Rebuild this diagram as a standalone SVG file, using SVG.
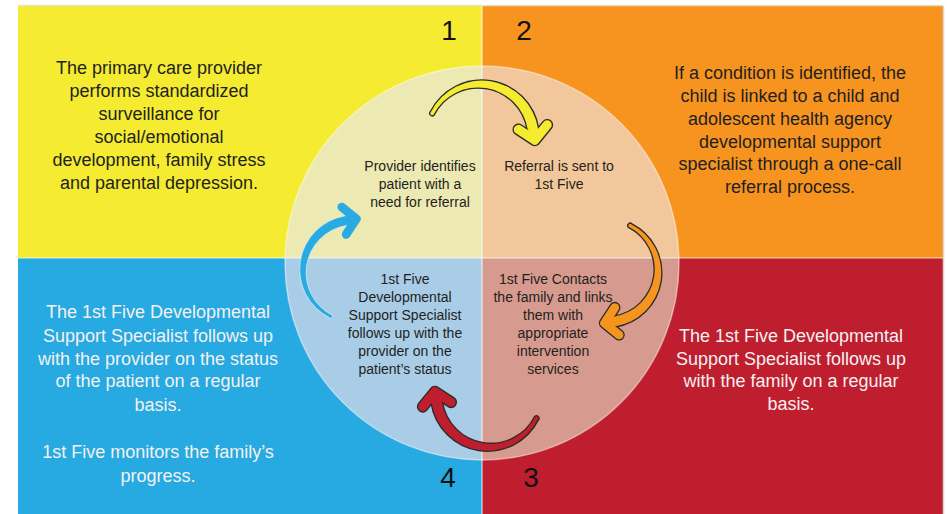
<svg xmlns="http://www.w3.org/2000/svg" xmlns:xlink="http://www.w3.org/1999/xlink" width="947" height="514" viewBox="0 0 947 514">
<style>
  .big { font-family: "Liberation Sans", Arial, sans-serif; font-size: 18px; text-anchor: middle; }
  .dark { fill: #231f20; }
  .light { fill: #f4f1f2; }
  .lbl { font-family: "Liberation Sans", Arial, sans-serif; font-size: 14px; text-anchor: middle; fill: #231f20; }
  .num { font-family: "Liberation Sans", Arial, sans-serif; font-size: 28px; text-anchor: middle; fill: #111; }
  .ol { fill: #2b2b2b; stroke: #2b2b2b; stroke-width: 2.6; stroke-linejoin: round; }
  .olh { fill: none; stroke: #2b2b2b; stroke-width: 11.6; stroke-linecap: round; stroke-linejoin: round; }
  .hd { fill: none; stroke-width: 9; stroke-linecap: round; stroke-linejoin: round; }
</style>
<defs>
  <clipPath id="circ"><circle cx="482" cy="263" r="197"/></clipPath>
  <path id="shaft" d="M -47.53 -25.10 A 55.29 55.29 0 0 1 56.36 -8.65 L 46.40 -7.60 A 48.71 48.71 0 0 0 -45.13 -22.11 A 1.92 1.92 0 0 1 -47.53 -25.10 Z"/>
  <path id="head" d="M 51.4 -8.1 L 53.2 2.5 M 37.3 -7.9 L 53.2 2.5 L 65.2 -12.3"/>
</defs>
<rect x="0" y="0" width="947" height="514" fill="#ffffff"/>
<g id="quadrants">
  <rect x="18" y="6" width="464" height="252" fill="#f5ec32"/>
  <rect x="482" y="6" width="461" height="252" fill="#f7941f"/>
  <rect x="18" y="258" width="464" height="256" fill="#27a9e1"/>
  <rect x="482" y="258" width="461" height="256" fill="#be1e2e"/>
  <line x1="18" y1="5.5" x2="943" y2="5.5" stroke="#e9e4b8" stroke-width="1.5"/>
  <line x1="943.5" y1="6" x2="943.5" y2="514" stroke="#d9d6d6" stroke-width="1.5"/>
</g>
<g id="circle" clip-path="url(#circ)">
  <rect x="285" y="60" width="197" height="198" fill="#ece9b3"/>
  <rect x="482" y="60" width="200" height="198" fill="#f1c79b"/>
  <rect x="285" y="258" width="197" height="210" fill="#a9cde7"/>
  <rect x="482" y="258" width="200" height="210" fill="#d79a8e"/>
</g>
<circle cx="482" cy="263" r="197" fill="none" stroke="#ffffff" stroke-opacity="0.45" stroke-width="1.5"/>
<g id="dividers" stroke="#ffffff" stroke-opacity="0.75" stroke-width="1.2">
  <line x1="482" y1="6" x2="482" y2="514"/>
  <line x1="18" y1="258" x2="943" y2="258"/>
</g>
<g id="numbers">
  <text class="num" x="449" y="40">1</text>
  <text class="num" x="524" y="40">2</text>
  <text class="num" x="531" y="487">3</text>
  <text class="num" x="448" y="487">4</text>
</g>
<g id="quad-text-1">
  <text class="big dark" x="159" y="74">The primary care provider</text>
  <text class="big dark" x="159" y="97">performs standardized</text>
  <text class="big dark" x="159" y="120">surveillance for</text>
  <text class="big dark" x="159" y="143">social/emotional</text>
  <text class="big dark" x="159" y="166">development, family stress</text>
  <text class="big dark" x="159" y="189">and parental depression.</text>
</g>
<g id="quad-text-2">
  <text class="big dark" x="790" y="79">If a condition is identified, the</text>
  <text class="big dark" x="790" y="102">child is linked to a child and</text>
  <text class="big dark" x="790" y="125">adolescent health agency</text>
  <text class="big dark" x="790" y="148">developmental support</text>
  <text class="big dark" x="790" y="170">specialist through a one-call</text>
  <text class="big dark" x="790" y="193">referral process.</text>
</g>
<g id="quad-text-3">
  <text class="big light" x="791" y="342">The 1st Five Developmental</text>
  <text class="big light" x="791" y="365">Support Specialist follows up</text>
  <text class="big light" x="791" y="387">with the family on a regular</text>
  <text class="big light" x="791" y="410">basis.</text>
</g>
<g id="quad-text-4">
  <text class="big light" x="158" y="318">The 1st Five Developmental</text>
  <text class="big light" x="158" y="342">Support Specialist follows up</text>
  <text class="big light" x="158" y="365">with the provider on the status</text>
  <text class="big light" x="158" y="387">of the patient on a regular</text>
  <text class="big light" x="158" y="411">basis.</text>
  <text class="big light" x="158" y="458">1st Five monitors the family’s</text>
  <text class="big light" x="158" y="482">progress.</text>
</g>
<g id="node-1">
  <text class="lbl" x="420" y="171">Provider identifies</text>
  <text class="lbl" x="420" y="189">patient with a</text>
  <text class="lbl" x="420" y="207">need for referral</text>
</g>
<g id="node-2">
  <text class="lbl" x="559" y="171">Referral is sent to</text>
  <text class="lbl" x="559" y="189">1st Five</text>
</g>
<g id="node-3">
  <text class="lbl" x="553" y="284">1st Five Contacts</text>
  <text class="lbl" x="553" y="302">the family and links</text>
  <text class="lbl" x="553" y="320">them with</text>
  <text class="lbl" x="553" y="338">appropriate</text>
  <text class="lbl" x="553" y="356">intervention</text>
  <text class="lbl" x="553" y="374">services</text>
</g>
<g id="node-4">
  <text class="lbl" x="405" y="284">1st Five</text>
  <text class="lbl" x="405" y="302">Developmental</text>
  <text class="lbl" x="405" y="320">Support Specialist</text>
  <text class="lbl" x="405" y="338">follows up with the</text>
  <text class="lbl" x="405" y="356">provider on the</text>
  <text class="lbl" x="405" y="374">patient’s status</text>
</g>
<g id="connectors">
  <g transform="translate(480,137.6) scale(1.03)">
    <use xlink:href="#shaft" class="ol"/>
    <use xlink:href="#head" class="olh"/>
    <use xlink:href="#shaft" fill="#f5ec2f"/>
    <use xlink:href="#head" class="hd" stroke="#f5ec2f"/>
  </g>
  <g transform="translate(607,271) rotate(90) scale(0.98)">
    <use xlink:href="#shaft" class="ol"/>
    <use xlink:href="#head" class="olh"/>
    <use xlink:href="#shaft" fill="#f7941e"/>
    <use xlink:href="#head" class="hd" stroke="#f7941e"/>
  </g>
  <g transform="translate(489.2,394.2) rotate(180) scale(1.02)">
    <use xlink:href="#shaft" class="ol"/>
    <use xlink:href="#head" class="olh"/>
    <use xlink:href="#shaft" fill="#be1e2d"/>
    <use xlink:href="#head" class="hd" stroke="#be1e2d"/>
  </g>
  <g transform="translate(353.9,271) rotate(270) scale(0.98)">
    <use xlink:href="#shaft" fill="#29abe2" stroke="#dff0f9" stroke-width="1" stroke-opacity="0.7"/>
    <use xlink:href="#head" class="hd" stroke="#29abe2"/>
  </g>
</g>
</svg>
